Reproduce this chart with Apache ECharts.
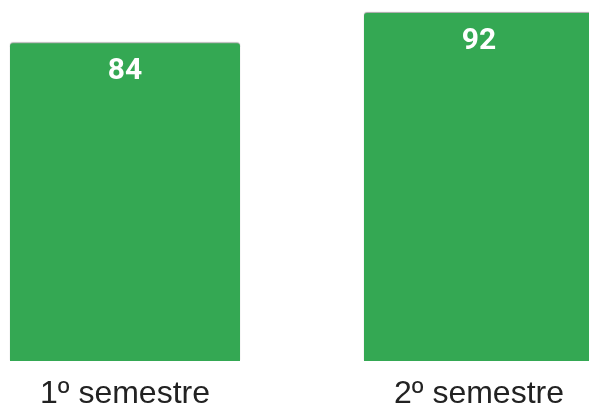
<!DOCTYPE html>
<html>
<head>
<meta charset="utf-8">
<script src="https://cdn.jsdelivr.net/npm/echarts@6/dist/echarts.min.js"></script>
<style>html,body{margin:0;padding:0;background:#fff;}#c{width:589px;height:405px;}</style>
</head>
<body>
<div id="c"></div>
<script>
var categories = ['1º semestre', '2º semestre'];
var values = [84, 92];

var chart = echarts.init(document.getElementById('c'), null, {renderer: 'canvas'});
chart.setOption({
  animation: false,
  grid: {left: -52, right: -67, top: 13, bottom: 44, containLabel: false, outerBoundsMode: 'none'},
  xAxis: {
    type: 'category',
    data: categories,
    axisLine: {show: false},
    axisTick: {show: false},
    axisLabel: {
      color: '#222222',
      fontSize: 32,
      fontFamily: 'Liberation Sans, Arial, sans-serif',
      margin: 17
    }
  },
  yAxis: {
    type: 'value',
    min: 0,
    max: 92,
    show: false,
    splitLine: {show: false}
  },
  series: [{
    type: 'bar',
    data: values,
    barWidth: 230,
    itemStyle: {
      color: '#34a853',
      borderRadius: [3, 3, 0, 0],
      shadowColor: 'rgba(0,0,0,0.35)',
      shadowBlur: 1,
      shadowOffsetY: -1
    },
    label: {
      show: true,
      position: 'insideTop',
      distance: 13,
      color: '#ffffff',
      fontSize: 30,
      fontWeight: 'bold',
      fontFamily: 'Roboto, sans-serif'
    }
  }]
});
</script>
</body>
</html>
